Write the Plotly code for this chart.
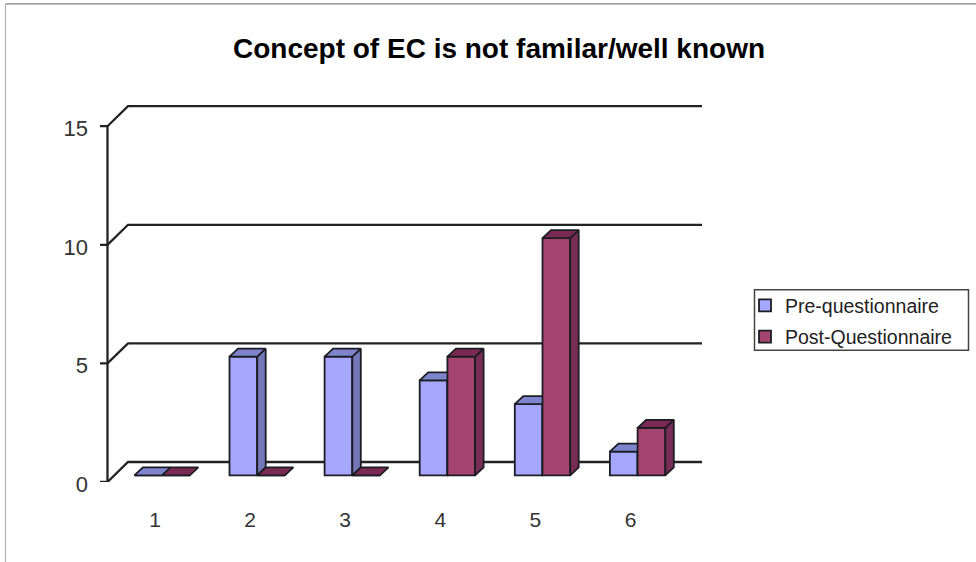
import plotly.graph_objects as go

categories = [1, 2, 3, 4, 5, 6]
pre_questionnaire = [0, 5, 5, 4, 3, 1]
post_questionnaire = [0, 0, 0, 5, 10, 2]
y_ticks = [0, 5, 10, 15]
title_text = "Concept of EC is not familar/well known"
series_names = ["Pre-questionnaire", "Post-Questionnaire"]

W, H = 976, 562
L, R, T, B = 100.0, 702.0, 103.0, 481.7
AXIS_PX = 107.5
PX_X = 95.1
PX_Y = 23.7
FONT = "Liberation Sans, Arial, sans-serif"
EDGE = "#1c1c24"
LINE = "#222222"

x_to_unit = lambda px: px / PX_X
y_to_unit = lambda px: px / PX_Y
x_range = [1 - x_to_unit(155 - L), 1 + x_to_unit(R - 155)]
y_range = [0, y_to_unit(B - T)]
x_axis = 1 - x_to_unit(155 - AXIS_PX)

bar_w = x_to_unit(27.7)
bar_off = x_to_unit(7.1)
base = y_to_unit(6.7)
dx, dy = x_to_unit(8.5), y_to_unit(8.0)
wall_dx, wall_dy = x_to_unit(20.5), y_to_unit(20.0)


def faces(values, start):
    top_x, top_y, side_x, side_y = [], [], [], []
    for c, v in zip(categories, values):
        x0 = c + start
        x1 = x0 + bar_w
        y1 = base + v
        top_x += [x0, x0 + dx, x1 + dx, x1, x0, None]
        top_y += [y1, y1 + dy, y1 + dy, y1, y1, None]
        if v > 0:
            side_x += [x1, x1 + dx, x1 + dx, x1, x1, None]
            side_y += [base, base + dy, y1 + dy, y1, base, None]
    return top_x, top_y, side_x, side_y


def add_series(fig, name, values, start, front, top, side, xa, ya):
    top_x, top_y, side_x, side_y = faces(values, start)
    fig.add_trace(go.Bar(x=categories, y=values, base=base, width=bar_w, offset=start,
                         name=name, legendgroup=name, marker=dict(color=front, line=dict(color=EDGE, width=1.8)),
                         xaxis=xa, yaxis=ya))
    for fx, fy, col in ((side_x, side_y, side), (top_x, top_y, top)):
        fig.add_trace(go.Scatter(x=fx, y=fy, mode="lines", fill="toself", fillcolor=col,
                                 line=dict(color=EDGE, width=1.8), showlegend=False,
                                 legendgroup=name, hoverinfo="skip", xaxis=xa, yaxis=ya))


fig = go.Figure()

# value axis line, tick stubs and the chart's back wall / floor lines
wall_x, wall_y = [x_axis, x_axis, None], [y_ticks[0], y_ticks[-1], None]
for t in y_ticks:
    wall_x += [x_range[0], x_axis, x_axis + wall_dx, x_range[1], None]
    wall_y += [t, t, t + wall_dy, t + wall_dy, None]
fig.add_trace(go.Scatter(x=wall_x, y=wall_y, mode="lines", line=dict(color=LINE, width=2.3),
                         showlegend=False, hoverinfo="skip"))

add_series(fig, series_names[0], pre_questionnaire, bar_off - bar_w, "#A6A8FF", "#7F85CC", "#7478B8", "x2", "y2")
add_series(fig, series_names[1], post_questionnaire, bar_off, "#A5446F", "#7A2A52", "#772D55", "x3", "y3")


def px(x):
    return (x - L) / (R - L)


def py(y):
    return (B - y) / (B - T)


shapes = [
    # photo frame
    dict(type="line", xref="paper", yref="paper", x0=px(5.5), x1=px(976), y0=py(4), y1=py(4),
         line=dict(color="#808080", width=1.2)),
    dict(type="line", xref="paper", yref="paper", x0=px(5.5), x1=px(5.5), y0=py(4), y1=py(562),
         line=dict(color="#b0b0b0", width=1.2)),
    # legend frame
    dict(type="rect", xref="paper", yref="paper", x0=px(754.5), x1=px(968.5), y0=py(289.5), y1=py(350),
         line=dict(color="#444444", width=1.5)),
]

overlay_x = dict(overlaying="x", matches="x", visible=False)
overlay_y = dict(overlaying="y", matches="y", visible=False)

fig.update_layout(
    width=W, height=H, autosize=False,
    margin=dict(l=L, r=W - R, t=T, b=H - B, pad=0, autoexpand=False),
    paper_bgcolor="white", plot_bgcolor="rgba(0,0,0,0)",
    barmode="overlay",
    shapes=shapes,
    font=dict(family=FONT, color=LINE),
    title=dict(text=title_text, x=499 / W, xanchor="center", y=1 - 48 / H, yanchor="middle",
               font=dict(family=FONT, size=28, color="#000000", weight="bold")),
    xaxis=dict(range=x_range, tickmode="array", tickvals=categories, ticktext=[str(c) for c in categories],
               showgrid=False, zeroline=False, showline=False, ticks="outside", ticklen=19,
               tickcolor="rgba(0,0,0,0)", tickfont=dict(size=21, color="#333333")),
    yaxis=dict(range=y_range, tickmode="array", tickvals=y_ticks, showgrid=False, zeroline=False,
               showline=False, ticks="", ticklabelstandoff=11, ticklabelshift=2,
               tickfont=dict(size=22, color="#333333")),
    xaxis2=overlay_x, yaxis2=overlay_y,
    xaxis3=overlay_x, yaxis3=overlay_y,
    legend=dict(x=px(745), y=py(286), xanchor="left", yanchor="top", bgcolor="rgba(0,0,0,0)",
                borderwidth=0, font=dict(size=19.5, color=LINE), traceorder="grouped", tracegroupgap=3),
)

fig.write_html("out.html", config={"displayModeBar": False}, post_script="document.body.style.margin='0';")
